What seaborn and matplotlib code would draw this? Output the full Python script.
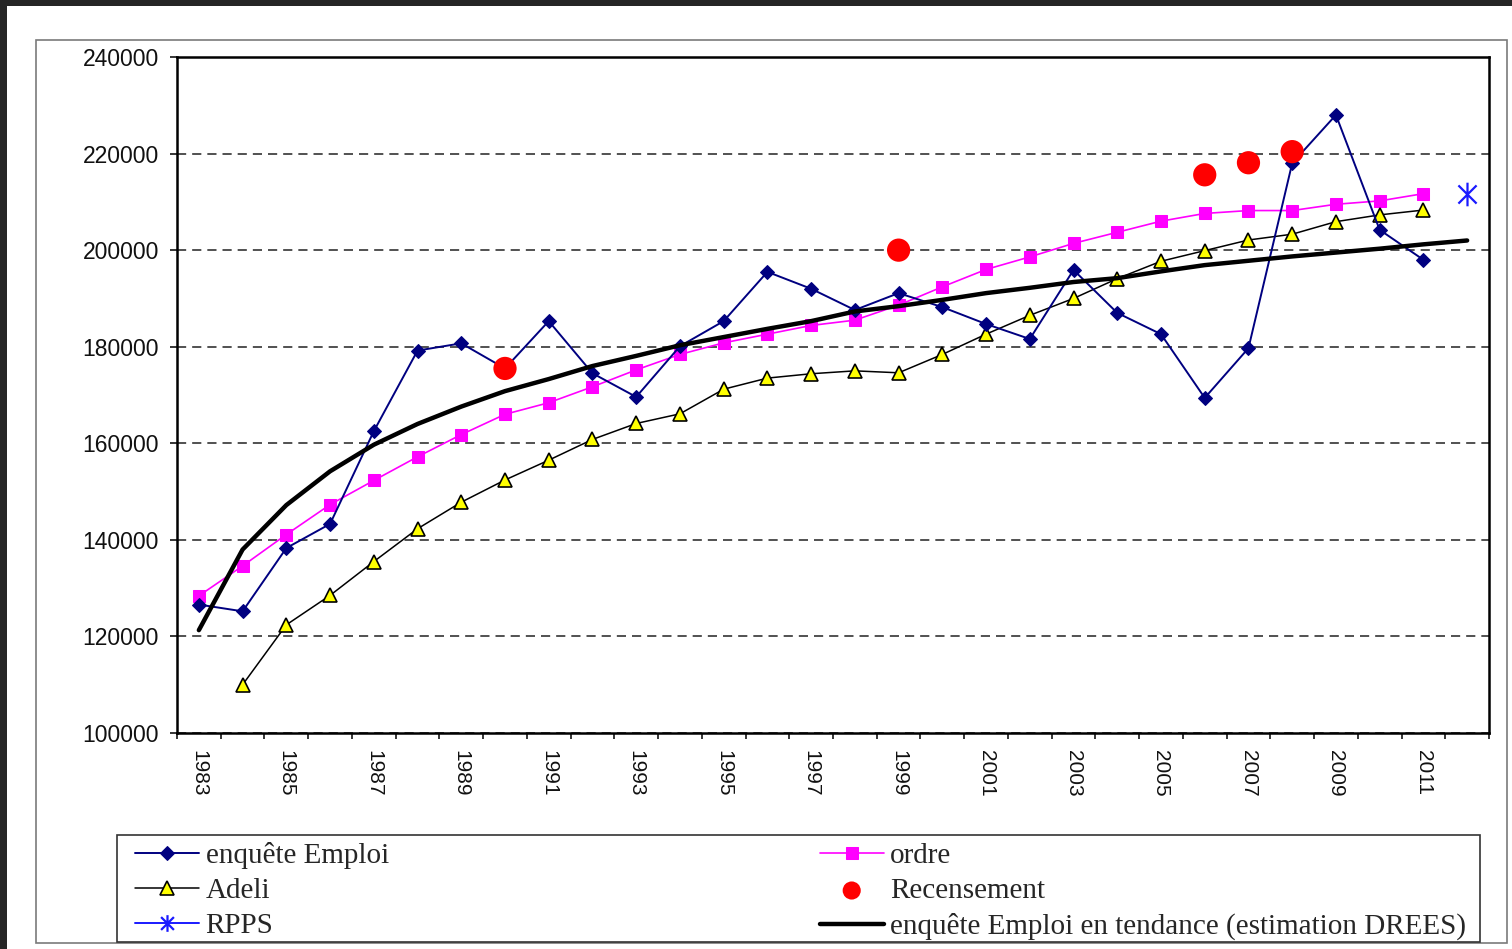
import numpy as np
import pandas as pd
import matplotlib.pyplot as plt
import seaborn as sns
from matplotlib.patches import Rectangle
from matplotlib.path import Path

# --- Données ---

years = list(range(1983, 2012))
enquete_emploi = [126600, 125200, 138300, 143300, 162500, 179200, 180700, 175500,
                  185300, 174500, 169600, 180100, 185300, 195500, 192000, 187600,
                  191100, 188200, 184700, 181600, 195900, 187000, 182600, 169400,
                  179700, 218000, 228000, 204200, 198000]

ordre = [128400, 134600, 141100, 147300, 152300, 157200, 161800, 166000,
         168400, 171700, 175200, 178400, 180800, 182600, 184400, 185500,
         188600, 192400, 196000, 198600, 201400, 203700, 206000, 207600,
         208200, 208200, 209500, 210200, 211700]

adeli_years = list(range(1984, 2012))
adeli = [110000, 122400, 128500, 135500, 142300, 147800, 152400, 156500,
         160800, 164100, 166100, 171200, 173500, 174400, 175000, 174600,
         178400, 182600, 186500, 190000, 194100, 197700, 199900, 202100,
         203300, 205900, 207300, 208300]

recensement_years = [1990, 1999, 2006, 2007, 2008]
recensement = [175500, 200000, 215600, 218100, 220400]

rpps_years = [2012]
rpps = [211700]

tendance_years = list(range(1983, 2013))
tendance = [121300, 138000, 147200, 154200, 159700, 164000, 167600, 170800,
            173300, 176000, 178100, 180300, 182000, 183700, 185300, 187300,
            188400, 189700, 191100, 192200, 193400, 194200, 195600, 196900,
            197800, 198700, 199500, 200300, 201200, 202000]

year_labels = [str(y) for y in range(1983, 2012, 2)]

# --- Mise en forme ---

sns.set_style("white")
plt.rcParams['font.family'] = ['Liberation Sans', 'DejaVu Sans']

fig = plt.figure(figsize=(15.12, 9.49), dpi=100, facecolor='#262626')
W, H = 1512, 949

# fond blanc + cadre gris autour du graphique + cadre de la légende
fig.patches.append(Rectangle((7 / W, 0), 1 - 7 / W, 1 - 6 / H, transform=fig.transFigure,
                             facecolor='white', edgecolor='none', zorder=-10))
fig.patches.append(Rectangle((36 / W, 1 - 943 / H), (1507 - 36) / W, (943 - 40) / H,
                             transform=fig.transFigure, facecolor='none',
                             edgecolor='#7a7a7a', linewidth=1.2, zorder=-5))
fig.patches.append(Rectangle((117 / W, 1 - 942 / H), (1480 - 117) / W, (942 - 835) / H,
                             transform=fig.transFigure, facecolor='white',
                             edgecolor='#333333', linewidth=1.2, zorder=-4))

ax = fig.add_axes([177 / W, 1 - 733 / H, (1489 - 177) / W, (733 - 57) / H])
ax.set_facecolor('white')

# marqueur "étoile" façon Excel : un X barré verticalement
star = Path([(-1, -1), (1, 1), (-1, 1), (1, -1), (0, -1.3), (0, 1.3)],
            [Path.MOVETO, Path.LINETO, Path.MOVETO, Path.LINETO, Path.MOVETO, Path.LINETO])

sns.lineplot(x=years, y=enquete_emploi, ax=ax, color='#000080', linewidth=1.4,
             marker='D', markersize=7, markeredgecolor='#000080',
             label='enquête Emploi', zorder=4)
sns.lineplot(x=years, y=ordre, ax=ax, color='#ff00ff', linewidth=1.2,
             marker='s', markersize=9, markeredgecolor='#ff00ff',
             label='ordre', zorder=3)
sns.lineplot(x=adeli_years, y=adeli, ax=ax, color='black', linewidth=1.1,
             marker='^', markersize=10, markerfacecolor='#ffff00',
             markeredgecolor='black', markeredgewidth=1.2,
             label='Adeli', zorder=3)
sns.scatterplot(x=recensement_years, y=recensement, ax=ax, color='#ff0000',
                s=280, edgecolor='none', label='Recensement', zorder=5)
sns.lineplot(x=rpps_years, y=rpps, ax=ax, color='#1a1aff', linewidth=1.4,
             marker=star, markersize=17, markeredgewidth=1.6,
             markeredgecolor='#1a1aff', label='RPPS', zorder=5)
sns.lineplot(x=tendance_years, y=tendance, ax=ax, color='black', linewidth=3.2,
             label='enquête Emploi en tendance (estimation DREES)', zorder=4)

# axes
ax.set_xlim(1982.5, 2012.5)
ax.set_ylim(100000, 240000)
ax.set_yticks(range(100000, 240001, 20000))
ax.set_yticklabels([str(v) for v in range(100000, 240001, 20000)])
ax.set_xticks(range(1983, 2012, 2))
ax.set_xticklabels(year_labels, rotation=-90)
ax.set_xticks(np.arange(1982.5, 2013, 1), minor=True)
ax.set_xlabel('')
ax.set_ylabel('')

ax.tick_params(axis='x', which='major', length=0, pad=12, labelsize=15, colors='#111111')
ax.tick_params(axis='x', which='minor', length=4.5, width=1.1, direction='out',
               bottom=True, color='black')
ax.tick_params(axis='y', which='major', length=5, width=1.1, direction='out',
               left=True, pad=8, labelsize=16.5, colors='black', labelcolor='#111111')

ax.yaxis.grid(True, linestyle=(0, (5.5, 3.6)), color='#333333', linewidth=1.2)
ax.xaxis.grid(False)
ax.set_axisbelow(True)
for side in ['top', 'right', 'bottom', 'left']:
    ax.spines[side].set_visible(True)
    ax.spines[side].set_color('black')
    ax.spines[side].set_linewidth(1.8)

# légende en bas, deux colonnes
handles, labels = ax.get_legend_handles_labels()
ax.get_legend().remove()
lookup = dict(zip(labels, handles))
order = ['enquête Emploi', 'Adeli', 'RPPS', 'ordre', 'Recensement',
         'enquête Emploi en tendance (estimation DREES)']
leg = fig.legend([lookup[k] for k in order], order, ncol=2,
                 loc='upper left', bbox_to_anchor=(135 / W, 1 - 842 / H),
                 frameon=False,
                 prop={'family': ['Liberation Serif', 'DejaVu Serif'], 'size': 21},
                 handlelength=2.2, handletextpad=0.22, columnspacing=14.77,
                 labelspacing=0.3, borderpad=0, borderaxespad=0)
# symboles de légende un peu plus petits, comme dans l'original
leg.legend_handles[4].set_sizes([170])
leg.legend_handles[2].set_markersize(12)

fig.savefig('out.png', dpi=100, facecolor=fig.get_facecolor())
